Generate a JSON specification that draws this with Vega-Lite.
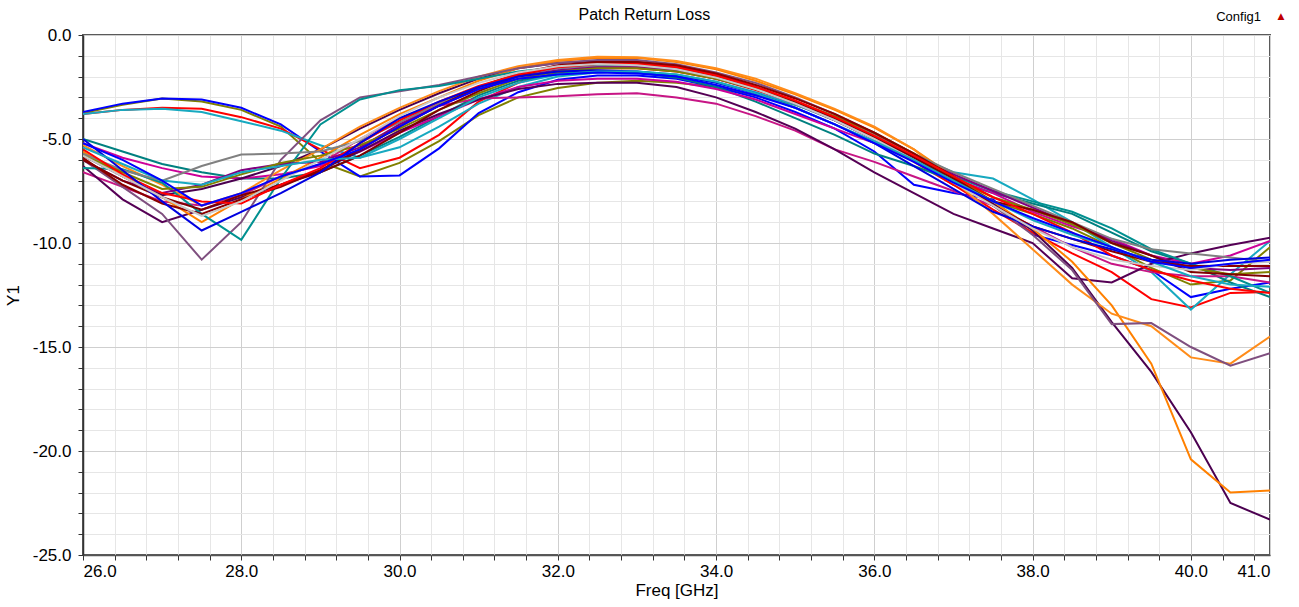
{
"$schema": "https://vega.github.io/schema/vega-lite/v6.json",
"width": 1187, "height": 520,
"autosize": "none",
"padding": {"left": 83, "top": 35, "right": 29, "bottom": 52},
"background": "white",
"config": {"view": {"stroke": "#5a5a5a", "strokeWidth": 2}, "font": "Liberation Sans"},
"title": {"text": "Patch Return Loss", "fontSize": 16, "fontWeight": "normal", "font": "Liberation Sans", "color": "#000000", "anchor": "middle", "frame": "bounds", "offset": 0, "dy": 12},
"datasets": {
"curves": [
{"s":"s1","f":26,"v":-3.75},{"s":"s1","f":26.5,"v":-3.35},{"s":"s1","f":27,"v":-3.05},{"s":"s1","f":27.5,"v":-3.2},{"s":"s1","f":28,"v":-3.6},{"s":"s1","f":28.5,"v":-4.4},{"s":"s1","f":29,"v":-6.1},{"s":"s1","f":29.5,"v":-6.8},{"s":"s1","f":30,"v":-6.15},{"s":"s1","f":30.5,"v":-5.1},{"s":"s1","f":31,"v":-3.85},{"s":"s1","f":31.5,"v":-3.0},{"s":"s1","f":32,"v":-2.55},{"s":"s1","f":32.5,"v":-2.3},{"s":"s1","f":33,"v":-2.2},{"s":"s1","f":33.5,"v":-2.3},{"s":"s1","f":34,"v":-2.5},{"s":"s1","f":34.5,"v":-2.9},{"s":"s1","f":35,"v":-3.35},{"s":"s1","f":35.5,"v":-4.0},{"s":"s1","f":36,"v":-4.9},{"s":"s1","f":36.5,"v":-6.0},{"s":"s1","f":37,"v":-7.2},{"s":"s1","f":37.5,"v":-8.0},{"s":"s1","f":38,"v":-8.6},{"s":"s1","f":38.5,"v":-9.3},{"s":"s1","f":39,"v":-10.2},{"s":"s1","f":39.5,"v":-11.2},{"s":"s1","f":40,"v":-12.0},{"s":"s1","f":40.5,"v":-11.8},{"s":"s1","f":41,"v":-10.2},
{"s":"s2","f":26,"v":-3.7},{"s":"s2","f":26.5,"v":-3.3},{"s":"s2","f":27,"v":-3.05},{"s":"s2","f":27.5,"v":-3.1},{"s":"s2","f":28,"v":-3.5},{"s":"s2","f":28.5,"v":-4.3},{"s":"s2","f":29,"v":-5.6},{"s":"s2","f":29.5,"v":-6.8},{"s":"s2","f":30,"v":-6.75},{"s":"s2","f":30.5,"v":-5.45},{"s":"s2","f":31,"v":-3.75},{"s":"s2","f":31.5,"v":-2.75},{"s":"s2","f":32,"v":-2.15},{"s":"s2","f":32.5,"v":-1.95},{"s":"s2","f":33,"v":-1.95},{"s":"s2","f":33.5,"v":-2.1},{"s":"s2","f":34,"v":-2.5},{"s":"s2","f":34.5,"v":-3.0},{"s":"s2","f":35,"v":-3.7},{"s":"s2","f":35.5,"v":-4.5},{"s":"s2","f":36,"v":-5.6},{"s":"s2","f":36.5,"v":-7.2},{"s":"s2","f":37,"v":-7.6},{"s":"s2","f":37.5,"v":-7.9},{"s":"s2","f":38,"v":-9.6},{"s":"s2","f":38.5,"v":-10.1},{"s":"s2","f":39,"v":-10.6},{"s":"s2","f":39.5,"v":-11.3},{"s":"s2","f":40,"v":-12.6},{"s":"s2","f":40.5,"v":-12.2},{"s":"s2","f":41,"v":-11.9},
{"s":"s3","f":26,"v":-3.8},{"s":"s3","f":26.5,"v":-3.6},{"s":"s3","f":27,"v":-3.5},{"s":"s3","f":27.5,"v":-3.55},{"s":"s3","f":28,"v":-3.95},{"s":"s3","f":28.5,"v":-4.5},{"s":"s3","f":29,"v":-5.5},{"s":"s3","f":29.5,"v":-6.4},{"s":"s3","f":30,"v":-5.9},{"s":"s3","f":30.5,"v":-4.8},{"s":"s3","f":31,"v":-3.2},{"s":"s3","f":31.5,"v":-2.3},{"s":"s3","f":32,"v":-1.8},{"s":"s3","f":32.5,"v":-1.6},{"s":"s3","f":33,"v":-1.6},{"s":"s3","f":33.5,"v":-1.75},{"s":"s3","f":34,"v":-2.1},{"s":"s3","f":34.5,"v":-2.65},{"s":"s3","f":35,"v":-3.3},{"s":"s3","f":35.5,"v":-4.1},{"s":"s3","f":36,"v":-5.0},{"s":"s3","f":36.5,"v":-6.1},{"s":"s3","f":37,"v":-7.2},{"s":"s3","f":37.5,"v":-8.4},{"s":"s3","f":38,"v":-9.5},{"s":"s3","f":38.5,"v":-10.5},{"s":"s3","f":39,"v":-11.4},{"s":"s3","f":39.5,"v":-12.7},{"s":"s3","f":40,"v":-13.1},{"s":"s3","f":40.5,"v":-12.4},{"s":"s3","f":41,"v":-12.35},
{"s":"s4","f":26,"v":-3.8},{"s":"s4","f":26.5,"v":-3.6},{"s":"s4","f":27,"v":-3.55},{"s":"s4","f":27.5,"v":-3.7},{"s":"s4","f":28,"v":-4.15},{"s":"s4","f":28.5,"v":-4.6},{"s":"s4","f":29,"v":-5.3},{"s":"s4","f":29.5,"v":-5.9},{"s":"s4","f":30,"v":-5.4},{"s":"s4","f":30.5,"v":-4.4},{"s":"s4","f":31,"v":-3.3},{"s":"s4","f":31.5,"v":-2.5},{"s":"s4","f":32,"v":-2.0},{"s":"s4","f":32.5,"v":-1.8},{"s":"s4","f":33,"v":-1.75},{"s":"s4","f":33.5,"v":-1.9},{"s":"s4","f":34,"v":-2.25},{"s":"s4","f":34.5,"v":-2.75},{"s":"s4","f":35,"v":-3.35},{"s":"s4","f":35.5,"v":-4.1},{"s":"s4","f":36,"v":-4.9},{"s":"s4","f":36.5,"v":-5.8},{"s":"s4","f":37,"v":-6.6},{"s":"s4","f":37.5,"v":-6.9},{"s":"s4","f":38,"v":-7.9},{"s":"s4","f":38.5,"v":-9.0},{"s":"s4","f":39,"v":-10.2},{"s":"s4","f":39.5,"v":-11.4},{"s":"s4","f":40,"v":-13.2},{"s":"s4","f":40.5,"v":-11.5},{"s":"s4","f":41,"v":-9.9},
{"s":"s5","f":26,"v":-5.0},{"s":"s5","f":26.5,"v":-5.6},{"s":"s5","f":27,"v":-6.2},{"s":"s5","f":27.5,"v":-6.6},{"s":"s5","f":28,"v":-6.9},{"s":"s5","f":28.5,"v":-6.9},{"s":"s5","f":29,"v":-6.6},{"s":"s5","f":29.5,"v":-5.8},{"s":"s5","f":30,"v":-4.9},{"s":"s5","f":30.5,"v":-3.9},{"s":"s5","f":31,"v":-2.9},{"s":"s5","f":31.5,"v":-2.2},{"s":"s5","f":32,"v":-1.85},{"s":"s5","f":32.5,"v":-1.75},{"s":"s5","f":33,"v":-1.8},{"s":"s5","f":33.5,"v":-2.05},{"s":"s5","f":34,"v":-2.5},{"s":"s5","f":34.5,"v":-3.2},{"s":"s5","f":35,"v":-4.0},{"s":"s5","f":35.5,"v":-4.8},{"s":"s5","f":36,"v":-5.7},{"s":"s5","f":36.5,"v":-6.3},{"s":"s5","f":37,"v":-7.0},{"s":"s5","f":37.5,"v":-7.6},{"s":"s5","f":38,"v":-8.1},{"s":"s5","f":38.5,"v":-8.6},{"s":"s5","f":39,"v":-9.5},{"s":"s5","f":39.5,"v":-10.4},{"s":"s5","f":40,"v":-11.0},{"s":"s5","f":40.5,"v":-11.9},{"s":"s5","f":41,"v":-12.6},
{"s":"s6","f":26,"v":-5.2},{"s":"s6","f":26.5,"v":-5.9},{"s":"s6","f":27,"v":-6.4},{"s":"s6","f":27.5,"v":-6.8},{"s":"s6","f":28,"v":-6.9},{"s":"s6","f":28.5,"v":-6.7},{"s":"s6","f":29,"v":-6.3},{"s":"s6","f":29.5,"v":-5.6},{"s":"s6","f":30,"v":-4.7},{"s":"s6","f":30.5,"v":-3.9},{"s":"s6","f":31,"v":-3.1},{"s":"s6","f":31.5,"v":-2.5},{"s":"s6","f":32,"v":-2.2},{"s":"s6","f":32.5,"v":-2.1},{"s":"s6","f":33,"v":-2.1},{"s":"s6","f":33.5,"v":-2.25},{"s":"s6","f":34,"v":-2.6},{"s":"s6","f":34.5,"v":-3.1},{"s":"s6","f":35,"v":-3.8},{"s":"s6","f":35.5,"v":-4.5},{"s":"s6","f":36,"v":-5.2},{"s":"s6","f":36.5,"v":-5.9},{"s":"s6","f":37,"v":-6.9},{"s":"s6","f":37.5,"v":-7.6},{"s":"s6","f":38,"v":-8.5},{"s":"s6","f":38.5,"v":-9.2},{"s":"s6","f":39,"v":-9.8},{"s":"s6","f":39.5,"v":-10.6},{"s":"s6","f":40,"v":-11.0},{"s":"s6","f":40.5,"v":-10.6},{"s":"s6","f":41,"v":-9.9},
{"s":"s7","f":26,"v":-6.6},{"s":"s7","f":26.5,"v":-7.3},{"s":"s7","f":27,"v":-8.0},{"s":"s7","f":27.5,"v":-8.2},{"s":"s7","f":28,"v":-7.7},{"s":"s7","f":28.5,"v":-6.8},{"s":"s7","f":29,"v":-6.2},{"s":"s7","f":29.5,"v":-5.0},{"s":"s7","f":30,"v":-4.0},{"s":"s7","f":30.5,"v":-3.4},{"s":"s7","f":31,"v":-3.05},{"s":"s7","f":31.5,"v":-3.0},{"s":"s7","f":32,"v":-2.95},{"s":"s7","f":32.5,"v":-2.85},{"s":"s7","f":33,"v":-2.8},{"s":"s7","f":33.5,"v":-3.0},{"s":"s7","f":34,"v":-3.3},{"s":"s7","f":34.5,"v":-3.9},{"s":"s7","f":35,"v":-4.6},{"s":"s7","f":35.5,"v":-5.5},{"s":"s7","f":36,"v":-6.1},{"s":"s7","f":36.5,"v":-6.8},{"s":"s7","f":37,"v":-7.5},{"s":"s7","f":37.5,"v":-8.2},{"s":"s7","f":38,"v":-9.2},{"s":"s7","f":38.5,"v":-10.2},{"s":"s7","f":39,"v":-11.0},{"s":"s7","f":39.5,"v":-11.4},{"s":"s7","f":40,"v":-11.6},{"s":"s7","f":40.5,"v":-11.6},{"s":"s7","f":41,"v":-11.9},
{"s":"s8","f":26,"v":-6.3},{"s":"s8","f":26.5,"v":-7.9},{"s":"s8","f":27,"v":-9.0},{"s":"s8","f":27.5,"v":-8.4},{"s":"s8","f":28,"v":-7.8},{"s":"s8","f":28.5,"v":-7.2},{"s":"s8","f":29,"v":-6.5},{"s":"s8","f":29.5,"v":-5.6},{"s":"s8","f":30,"v":-4.6},{"s":"s8","f":30.5,"v":-3.8},{"s":"s8","f":31,"v":-3.1},{"s":"s8","f":31.5,"v":-2.6},{"s":"s8","f":32,"v":-2.35},{"s":"s8","f":32.5,"v":-2.3},{"s":"s8","f":33,"v":-2.3},{"s":"s8","f":33.5,"v":-2.5},{"s":"s8","f":34,"v":-3.0},{"s":"s8","f":34.5,"v":-3.7},{"s":"s8","f":35,"v":-4.5},{"s":"s8","f":35.5,"v":-5.5},{"s":"s8","f":36,"v":-6.6},{"s":"s8","f":36.5,"v":-7.6},{"s":"s8","f":37,"v":-8.6},{"s":"s8","f":37.5,"v":-9.3},{"s":"s8","f":38,"v":-10.0},{"s":"s8","f":38.5,"v":-11.7},{"s":"s8","f":39,"v":-11.9},{"s":"s8","f":39.5,"v":-11.0},{"s":"s8","f":40,"v":-10.5},{"s":"s8","f":40.5,"v":-10.1},{"s":"s8","f":41,"v":-9.75},
{"s":"s9","f":26,"v":-5.8},{"s":"s9","f":26.5,"v":-6.8},{"s":"s9","f":27,"v":-7.7},{"s":"s9","f":27.5,"v":-7.4},{"s":"s9","f":28,"v":-6.9},{"s":"s9","f":28.5,"v":-6.3},{"s":"s9","f":29,"v":-5.5},{"s":"s9","f":29.5,"v":-4.5},{"s":"s9","f":30,"v":-3.6},{"s":"s9","f":30.5,"v":-2.8},{"s":"s9","f":31,"v":-2.1},{"s":"s9","f":31.5,"v":-1.6},{"s":"s9","f":32,"v":-1.35},{"s":"s9","f":32.5,"v":-1.25},{"s":"s9","f":33,"v":-1.3},{"s":"s9","f":33.5,"v":-1.5},{"s":"s9","f":34,"v":-1.9},{"s":"s9","f":34.5,"v":-2.5},{"s":"s9","f":35,"v":-3.2},{"s":"s9","f":35.5,"v":-4.0},{"s":"s9","f":36,"v":-4.9},{"s":"s9","f":36.5,"v":-5.9},{"s":"s9","f":37,"v":-7.0},{"s":"s9","f":37.5,"v":-8.1},{"s":"s9","f":38,"v":-9.4},{"s":"s9","f":38.5,"v":-11.2},{"s":"s9","f":39,"v":-13.8},{"s":"s9","f":39.5,"v":-16.2},{"s":"s9","f":40,"v":-19.1},{"s":"s9","f":40.5,"v":-22.5},{"s":"s9","f":41,"v":-23.3},
{"s":"s10","f":26,"v":-5.6},{"s":"s10","f":26.5,"v":-6.8},{"s":"s10","f":27,"v":-7.8},{"s":"s10","f":27.5,"v":-9.0},{"s":"s10","f":28,"v":-7.9},{"s":"s10","f":28.5,"v":-6.9},{"s":"s10","f":29,"v":-5.9},{"s":"s10","f":29.5,"v":-4.8},{"s":"s10","f":30,"v":-3.8},{"s":"s10","f":30.5,"v":-3.0},{"s":"s10","f":31,"v":-2.2},{"s":"s10","f":31.5,"v":-1.6},{"s":"s10","f":32,"v":-1.25},{"s":"s10","f":32.5,"v":-1.1},{"s":"s10","f":33,"v":-1.1},{"s":"s10","f":33.5,"v":-1.3},{"s":"s10","f":34,"v":-1.65},{"s":"s10","f":34.5,"v":-2.2},{"s":"s10","f":35,"v":-2.85},{"s":"s10","f":35.5,"v":-3.6},{"s":"s10","f":36,"v":-4.45},{"s":"s10","f":36.5,"v":-5.5},{"s":"s10","f":37,"v":-6.8},{"s":"s10","f":37.5,"v":-8.0},{"s":"s10","f":38,"v":-9.3},{"s":"s10","f":38.5,"v":-10.9},{"s":"s10","f":39,"v":-13.0},{"s":"s10","f":39.5,"v":-15.8},{"s":"s10","f":40,"v":-20.4},{"s":"s10","f":40.5,"v":-22.0},{"s":"s10","f":41,"v":-21.9},
{"s":"s11","f":26,"v":-5.3},{"s":"s11","f":26.5,"v":-6.3},{"s":"s11","f":27,"v":-7.2},{"s":"s11","f":27.5,"v":-8.2},{"s":"s11","f":28,"v":-7.6},{"s":"s11","f":28.5,"v":-6.5},{"s":"s11","f":29,"v":-5.5},{"s":"s11","f":29.5,"v":-4.4},{"s":"s11","f":30,"v":-3.5},{"s":"s11","f":30.5,"v":-2.7},{"s":"s11","f":31,"v":-2.0},{"s":"s11","f":31.5,"v":-1.5},{"s":"s11","f":32,"v":-1.2},{"s":"s11","f":32.5,"v":-1.05},{"s":"s11","f":33,"v":-1.07},{"s":"s11","f":33.5,"v":-1.25},{"s":"s11","f":34,"v":-1.6},{"s":"s11","f":34.5,"v":-2.1},{"s":"s11","f":35,"v":-2.8},{"s":"s11","f":35.5,"v":-3.55},{"s":"s11","f":36,"v":-4.4},{"s":"s11","f":36.5,"v":-5.5},{"s":"s11","f":37,"v":-7.0},{"s":"s11","f":37.5,"v":-8.6},{"s":"s11","f":38,"v":-10.3},{"s":"s11","f":38.5,"v":-12.0},{"s":"s11","f":39,"v":-13.4},{"s":"s11","f":39.5,"v":-14.0},{"s":"s11","f":40,"v":-15.5},{"s":"s11","f":40.5,"v":-15.8},{"s":"s11","f":41,"v":-14.5},
{"s":"s12","f":26,"v":-6.0},{"s":"s12","f":26.5,"v":-7.3},{"s":"s12","f":27,"v":-8.6},{"s":"s12","f":27.5,"v":-10.8},{"s":"s12","f":28,"v":-9.0},{"s":"s12","f":28.5,"v":-6.0},{"s":"s12","f":29,"v":-4.1},{"s":"s12","f":29.5,"v":-3.0},{"s":"s12","f":30,"v":-2.7},{"s":"s12","f":30.5,"v":-2.4},{"s":"s12","f":31,"v":-2.0},{"s":"s12","f":31.5,"v":-1.6},{"s":"s12","f":32,"v":-1.35},{"s":"s12","f":32.5,"v":-1.2},{"s":"s12","f":33,"v":-1.2},{"s":"s12","f":33.5,"v":-1.4},{"s":"s12","f":34,"v":-1.8},{"s":"s12","f":34.5,"v":-2.3},{"s":"s12","f":35,"v":-3.0},{"s":"s12","f":35.5,"v":-3.8},{"s":"s12","f":36,"v":-4.7},{"s":"s12","f":36.5,"v":-5.7},{"s":"s12","f":37,"v":-6.9},{"s":"s12","f":37.5,"v":-8.2},{"s":"s12","f":38,"v":-9.6},{"s":"s12","f":38.5,"v":-11.3},{"s":"s12","f":39,"v":-13.9},{"s":"s12","f":39.5,"v":-13.85},{"s":"s12","f":40,"v":-15.0},{"s":"s12","f":40.5,"v":-15.9},{"s":"s12","f":41,"v":-15.3},
{"s":"s13","f":26,"v":-6.4},{"s":"s13","f":26.5,"v":-6.45},{"s":"s13","f":27,"v":-7.1},{"s":"s13","f":27.5,"v":-8.6},{"s":"s13","f":28,"v":-9.85},{"s":"s13","f":28.5,"v":-6.9},{"s":"s13","f":29,"v":-4.3},{"s":"s13","f":29.5,"v":-3.1},{"s":"s13","f":30,"v":-2.65},{"s":"s13","f":30.5,"v":-2.45},{"s":"s13","f":31,"v":-2.1},{"s":"s13","f":31.5,"v":-1.75},{"s":"s13","f":32,"v":-1.55},{"s":"s13","f":32.5,"v":-1.45},{"s":"s13","f":33,"v":-1.45},{"s":"s13","f":33.5,"v":-1.6},{"s":"s13","f":34,"v":-2.0},{"s":"s13","f":34.5,"v":-2.55},{"s":"s13","f":35,"v":-3.25},{"s":"s13","f":35.5,"v":-4.1},{"s":"s13","f":36,"v":-5.0},{"s":"s13","f":36.5,"v":-5.9},{"s":"s13","f":37,"v":-6.8},{"s":"s13","f":37.5,"v":-7.5},{"s":"s13","f":38,"v":-8.0},{"s":"s13","f":38.5,"v":-8.5},{"s":"s13","f":39,"v":-9.3},{"s":"s13","f":39.5,"v":-10.3},{"s":"s13","f":40,"v":-11.0},{"s":"s13","f":40.5,"v":-11.6},{"s":"s13","f":41,"v":-12.4},
{"s":"s14","f":26,"v":-5.7},{"s":"s14","f":26.5,"v":-6.5},{"s":"s14","f":27,"v":-7.0},{"s":"s14","f":27.5,"v":-6.3},{"s":"s14","f":28,"v":-5.75},{"s":"s14","f":28.5,"v":-5.7},{"s":"s14","f":29,"v":-5.6},{"s":"s14","f":29.5,"v":-5.1},{"s":"s14","f":30,"v":-4.2},{"s":"s14","f":30.5,"v":-3.3},{"s":"s14","f":31,"v":-2.5},{"s":"s14","f":31.5,"v":-1.95},{"s":"s14","f":32,"v":-1.6},{"s":"s14","f":32.5,"v":-1.5},{"s":"s14","f":33,"v":-1.5},{"s":"s14","f":33.5,"v":-1.65},{"s":"s14","f":34,"v":-2.0},{"s":"s14","f":34.5,"v":-2.55},{"s":"s14","f":35,"v":-3.2},{"s":"s14","f":35.5,"v":-3.95},{"s":"s14","f":36,"v":-4.8},{"s":"s14","f":36.5,"v":-5.7},{"s":"s14","f":37,"v":-6.6},{"s":"s14","f":37.5,"v":-7.4},{"s":"s14","f":38,"v":-8.2},{"s":"s14","f":38.5,"v":-9.0},{"s":"s14","f":39,"v":-9.8},{"s":"s14","f":39.5,"v":-10.3},{"s":"s14","f":40,"v":-10.5},{"s":"s14","f":40.5,"v":-10.7},{"s":"s14","f":41,"v":-10.9},
{"s":"s15","f":26,"v":-6.0},{"s":"s15","f":26.5,"v":-7.0},{"s":"s15","f":27,"v":-7.6},{"s":"s15","f":27.5,"v":-7.2},{"s":"s15","f":28,"v":-6.5},{"s":"s15","f":28.5,"v":-6.2},{"s":"s15","f":29,"v":-6.1},{"s":"s15","f":29.5,"v":-5.4},{"s":"s15","f":30,"v":-4.3},{"s":"s15","f":30.5,"v":-3.4},{"s":"s15","f":31,"v":-2.6},{"s":"s15","f":31.5,"v":-2.0},{"s":"s15","f":32,"v":-1.7},{"s":"s15","f":32.5,"v":-1.55},{"s":"s15","f":33,"v":-1.55},{"s":"s15","f":33.5,"v":-1.7},{"s":"s15","f":34,"v":-2.1},{"s":"s15","f":34.5,"v":-2.6},{"s":"s15","f":35,"v":-3.3},{"s":"s15","f":35.5,"v":-4.1},{"s":"s15","f":36,"v":-5.0},{"s":"s15","f":36.5,"v":-5.9},{"s":"s15","f":37,"v":-6.7},{"s":"s15","f":37.5,"v":-7.5},{"s":"s15","f":38,"v":-8.3},{"s":"s15","f":38.5,"v":-9.1},{"s":"s15","f":39,"v":-9.9},{"s":"s15","f":39.5,"v":-10.6},{"s":"s15","f":40,"v":-11.2},{"s":"s15","f":40.5,"v":-11.3},{"s":"s15","f":41,"v":-11.2},
{"s":"s16","f":26,"v":-5.8},{"s":"s16","f":26.5,"v":-6.6},{"s":"s16","f":27,"v":-7.4},{"s":"s16","f":27.5,"v":-7.3},{"s":"s16","f":28,"v":-6.7},{"s":"s16","f":28.5,"v":-6.15},{"s":"s16","f":29,"v":-5.8},{"s":"s16","f":29.5,"v":-5.3},{"s":"s16","f":30,"v":-4.5},{"s":"s16","f":30.5,"v":-3.6},{"s":"s16","f":31,"v":-2.8},{"s":"s16","f":31.5,"v":-2.1},{"s":"s16","f":32,"v":-1.75},{"s":"s16","f":32.5,"v":-1.6},{"s":"s16","f":33,"v":-1.6},{"s":"s16","f":33.5,"v":-1.75},{"s":"s16","f":34,"v":-2.1},{"s":"s16","f":34.5,"v":-2.6},{"s":"s16","f":35,"v":-3.2},{"s":"s16","f":35.5,"v":-3.9},{"s":"s16","f":36,"v":-4.7},{"s":"s16","f":36.5,"v":-5.7},{"s":"s16","f":37,"v":-6.9},{"s":"s16","f":37.5,"v":-7.8},{"s":"s16","f":38,"v":-8.4},{"s":"s16","f":38.5,"v":-9.1},{"s":"s16","f":39,"v":-10.0},{"s":"s16","f":39.5,"v":-10.8},{"s":"s16","f":40,"v":-11.2},{"s":"s16","f":40.5,"v":-11.5},{"s":"s16","f":41,"v":-11.4},
{"s":"s17","f":26,"v":-6.0},{"s":"s17","f":26.5,"v":-7.0},{"s":"s17","f":27,"v":-7.8},{"s":"s17","f":27.5,"v":-8.4},{"s":"s17","f":28,"v":-7.7},{"s":"s17","f":28.5,"v":-7.2},{"s":"s17","f":29,"v":-6.6},{"s":"s17","f":29.5,"v":-5.8},{"s":"s17","f":30,"v":-4.7},{"s":"s17","f":30.5,"v":-3.6},{"s":"s17","f":31,"v":-2.7},{"s":"s17","f":31.5,"v":-1.95},{"s":"s17","f":32,"v":-1.5},{"s":"s17","f":32.5,"v":-1.35},{"s":"s17","f":33,"v":-1.35},{"s":"s17","f":33.5,"v":-1.55},{"s":"s17","f":34,"v":-1.95},{"s":"s17","f":34.5,"v":-2.5},{"s":"s17","f":35,"v":-3.2},{"s":"s17","f":35.5,"v":-4.0},{"s":"s17","f":36,"v":-4.9},{"s":"s17","f":36.5,"v":-5.9},{"s":"s17","f":37,"v":-6.9},{"s":"s17","f":37.5,"v":-8.0},{"s":"s17","f":38,"v":-8.4},{"s":"s17","f":38.5,"v":-9.0},{"s":"s17","f":39,"v":-10.0},{"s":"s17","f":39.5,"v":-10.6},{"s":"s17","f":40,"v":-11.4},{"s":"s17","f":40.5,"v":-11.5},{"s":"s17","f":41,"v":-11.6},
{"s":"s18","f":26,"v":-5.9},{"s":"s18","f":26.5,"v":-7.2},{"s":"s18","f":27,"v":-8.1},{"s":"s18","f":27.5,"v":-8.6},{"s":"s18","f":28,"v":-7.9},{"s":"s18","f":28.5,"v":-7.3},{"s":"s18","f":29,"v":-6.5},{"s":"s18","f":29.5,"v":-5.5},{"s":"s18","f":30,"v":-4.4},{"s":"s18","f":30.5,"v":-3.4},{"s":"s18","f":31,"v":-2.5},{"s":"s18","f":31.5,"v":-1.85},{"s":"s18","f":32,"v":-1.45},{"s":"s18","f":32.5,"v":-1.3},{"s":"s18","f":33,"v":-1.3},{"s":"s18","f":33.5,"v":-1.45},{"s":"s18","f":34,"v":-1.85},{"s":"s18","f":34.5,"v":-2.4},{"s":"s18","f":35,"v":-3.05},{"s":"s18","f":35.5,"v":-3.8},{"s":"s18","f":36,"v":-4.7},{"s":"s18","f":36.5,"v":-5.7},{"s":"s18","f":37,"v":-6.8},{"s":"s18","f":37.5,"v":-8.2},{"s":"s18","f":38,"v":-9.2},{"s":"s18","f":38.5,"v":-9.8},{"s":"s18","f":39,"v":-10.4},{"s":"s18","f":39.5,"v":-10.9},{"s":"s18","f":40,"v":-11.1},{"s":"s18","f":40.5,"v":-11.1},{"s":"s18","f":41,"v":-11.1},
{"s":"s19","f":26,"v":-5.5},{"s":"s19","f":26.5,"v":-6.7},{"s":"s19","f":27,"v":-7.6},{"s":"s19","f":27.5,"v":-8.0},{"s":"s19","f":28,"v":-8.1},{"s":"s19","f":28.5,"v":-7.2},{"s":"s19","f":29,"v":-6.4},{"s":"s19","f":29.5,"v":-5.2},{"s":"s19","f":30,"v":-4.1},{"s":"s19","f":30.5,"v":-3.2},{"s":"s19","f":31,"v":-2.45},{"s":"s19","f":31.5,"v":-1.9},{"s":"s19","f":32,"v":-1.55},{"s":"s19","f":32.5,"v":-1.4},{"s":"s19","f":33,"v":-1.4},{"s":"s19","f":33.5,"v":-1.55},{"s":"s19","f":34,"v":-1.95},{"s":"s19","f":34.5,"v":-2.5},{"s":"s19","f":35,"v":-3.15},{"s":"s19","f":35.5,"v":-3.95},{"s":"s19","f":36,"v":-4.85},{"s":"s19","f":36.5,"v":-5.8},{"s":"s19","f":37,"v":-6.8},{"s":"s19","f":37.5,"v":-7.8},{"s":"s19","f":38,"v":-8.6},{"s":"s19","f":38.5,"v":-9.5},{"s":"s19","f":39,"v":-10.6},{"s":"s19","f":39.5,"v":-11.3},{"s":"s19","f":40,"v":-11.8},{"s":"s19","f":40.5,"v":-12.2},{"s":"s19","f":41,"v":-12.4},
{"s":"s20","f":26,"v":-5.0},{"s":"s20","f":26.5,"v":-6.5},{"s":"s20","f":27,"v":-8.0},{"s":"s20","f":27.5,"v":-9.4},{"s":"s20","f":28,"v":-8.5},{"s":"s20","f":28.5,"v":-7.6},{"s":"s20","f":29,"v":-6.6},{"s":"s20","f":29.5,"v":-5.2},{"s":"s20","f":30,"v":-4.0},{"s":"s20","f":30.5,"v":-3.2},{"s":"s20","f":31,"v":-2.5},{"s":"s20","f":31.5,"v":-2.0},{"s":"s20","f":32,"v":-1.75},{"s":"s20","f":32.5,"v":-1.7},{"s":"s20","f":33,"v":-1.75},{"s":"s20","f":33.5,"v":-1.95},{"s":"s20","f":34,"v":-2.3},{"s":"s20","f":34.5,"v":-2.8},{"s":"s20","f":35,"v":-3.5},{"s":"s20","f":35.5,"v":-4.3},{"s":"s20","f":36,"v":-5.2},{"s":"s20","f":36.5,"v":-6.3},{"s":"s20","f":37,"v":-7.4},{"s":"s20","f":37.5,"v":-8.5},{"s":"s20","f":38,"v":-9.2},{"s":"s20","f":38.5,"v":-9.8},{"s":"s20","f":39,"v":-10.3},{"s":"s20","f":39.5,"v":-10.8},{"s":"s20","f":40,"v":-11.0},{"s":"s20","f":40.5,"v":-10.8},{"s":"s20","f":41,"v":-10.7},
{"s":"s21","f":26,"v":-5.8},{"s":"s21","f":26.5,"v":-6.8},{"s":"s21","f":27,"v":-7.8},{"s":"s21","f":27.5,"v":-8.7},{"s":"s21","f":28,"v":-8.0},{"s":"s21","f":28.5,"v":-7.0},{"s":"s21","f":29,"v":-6.0},{"s":"s21","f":29.5,"v":-5.0},{"s":"s21","f":30,"v":-3.9},{"s":"s21","f":30.5,"v":-3.0},{"s":"s21","f":31,"v":-2.3},{"s":"s21","f":31.5,"v":-1.8},{"s":"s21","f":32,"v":-1.5},{"s":"s21","f":32.5,"v":-1.4},{"s":"s21","f":33,"v":-1.45},{"s":"s21","f":33.5,"v":-1.65},{"s":"s21","f":34,"v":-2.05},{"s":"s21","f":34.5,"v":-2.6},{"s":"s21","f":35,"v":-3.3},{"s":"s21","f":35.5,"v":-4.1},{"s":"s21","f":36,"v":-5.0},{"s":"s21","f":36.5,"v":-6.0},{"s":"s21","f":37,"v":-7.1},{"s":"s21","f":37.5,"v":-8.2},{"s":"s21","f":38,"v":-9.3},{"s":"s21","f":38.5,"v":-10.2},{"s":"s21","f":39,"v":-10.8},{"s":"s21","f":39.5,"v":-11.1},{"s":"s21","f":40,"v":-11.3},{"s":"s21","f":40.5,"v":-11.0},{"s":"s21","f":41,"v":-10.9},
{"s":"s22","f":26,"v":-5.4},{"s":"s22","f":26.5,"v":-6.2},{"s":"s22","f":27,"v":-7.0},{"s":"s22","f":27.5,"v":-7.2},{"s":"s22","f":28,"v":-6.6},{"s":"s22","f":28.5,"v":-6.3},{"s":"s22","f":29,"v":-6.0},{"s":"s22","f":29.5,"v":-5.9},{"s":"s22","f":30,"v":-5.0},{"s":"s22","f":30.5,"v":-4.0},{"s":"s22","f":31,"v":-3.0},{"s":"s22","f":31.5,"v":-2.3},{"s":"s22","f":32,"v":-1.9},{"s":"s22","f":32.5,"v":-1.75},{"s":"s22","f":33,"v":-1.75},{"s":"s22","f":33.5,"v":-1.9},{"s":"s22","f":34,"v":-2.25},{"s":"s22","f":34.5,"v":-2.8},{"s":"s22","f":35,"v":-3.5},{"s":"s22","f":35.5,"v":-4.3},{"s":"s22","f":36,"v":-5.1},{"s":"s22","f":36.5,"v":-6.0},{"s":"s22","f":37,"v":-7.0},{"s":"s22","f":37.5,"v":-8.0},{"s":"s22","f":38,"v":-8.9},{"s":"s22","f":38.5,"v":-9.6},{"s":"s22","f":39,"v":-10.2},{"s":"s22","f":39.5,"v":-10.9},{"s":"s22","f":40,"v":-11.6},{"s":"s22","f":40.5,"v":-12.0},{"s":"s22","f":41,"v":-12.1},
{"s":"s23","f":26,"v":-5.2},{"s":"s23","f":26.5,"v":-6.0},{"s":"s23","f":27,"v":-7.0},{"s":"s23","f":27.5,"v":-8.2},{"s":"s23","f":28,"v":-7.6},{"s":"s23","f":28.5,"v":-6.8},{"s":"s23","f":29,"v":-6.2},{"s":"s23","f":29.5,"v":-5.5},{"s":"s23","f":30,"v":-4.4},{"s":"s23","f":30.5,"v":-3.4},{"s":"s23","f":31,"v":-2.6},{"s":"s23","f":31.5,"v":-2.1},{"s":"s23","f":32,"v":-1.9},{"s":"s23","f":32.5,"v":-1.8},{"s":"s23","f":33,"v":-1.85},{"s":"s23","f":33.5,"v":-2.0},{"s":"s23","f":34,"v":-2.4},{"s":"s23","f":34.5,"v":-2.9},{"s":"s23","f":35,"v":-3.5},{"s":"s23","f":35.5,"v":-4.3},{"s":"s23","f":36,"v":-5.2},{"s":"s23","f":36.5,"v":-6.1},{"s":"s23","f":37,"v":-7.1},{"s":"s23","f":37.5,"v":-8.0},{"s":"s23","f":38,"v":-8.8},{"s":"s23","f":38.5,"v":-9.5},{"s":"s23","f":39,"v":-10.2},{"s":"s23","f":39.5,"v":-10.9},{"s":"s23","f":40,"v":-11.2},{"s":"s23","f":40.5,"v":-11.0},{"s":"s23","f":41,"v":-10.8}
],
"labels": [{"t": "Config1", "f": 41, "v": 0}]
},
"layer": [
{
"data": {"name": "curves"},
"mark": {"type": "line", "opacity": 0},
"encoding": {
"x": {"field": "f", "type": "quantitative", "scale": {"domain": [26, 41], "nice": false, "zero": false},
"axis": {"orient": "bottom", "values": [26,26.4,26.8,27.2,27.6,28.0,28.4,28.8,29.2,29.6,30.0,30.4,30.8,31.2,31.6,32.0,32.4,32.8,33.2,33.6,34.0,34.4,34.8,35.2,35.6,36.0,36.4,36.8,37.2,37.6,38.0,38.4,38.8,39.2,39.6,40.0,40.4,40.8], "labels": false, "ticks": true, "tickSize": 5, "tickColor": "#333333", "grid": true, "gridColor": "#e6e6e6", "gridWidth": 1, "domain": false, "title": null}},
"y": {"field": "v", "type": "quantitative", "scale": {"domain": [-25, 0], "nice": false, "zero": false},
"axis": {"orient": "left", "values": [-25,-24,-23,-22,-21,-20,-19,-18,-17,-16,-15,-14,-13,-12,-11,-10,-9,-8,-7,-6,-5,-4,-3,-2,-1,0], "labels": false, "ticks": true, "tickSize": 5, "tickColor": "#333333", "grid": true, "gridColor": "#e6e6e6", "gridWidth": 1, "domain": false, "title": null}},
"detail": {"field": "s", "type": "nominal"}
}
},
{
"data": {"name": "curves"},
"mark": {"type": "line", "strokeWidth": 2, "clip": true},
"encoding": {
"x": {"field": "f", "type": "quantitative", "scale": {"domain": [26, 41], "nice": false, "zero": false},
"axis": {"orient": "bottom", "values": [26,28,30,32,34,36,38,40,41], "labelExpr": "(datum.value < 0 ? '-' : '') + format(abs(datum.value), '.1f')", "labelFontSize": 17, "labelColor": "#000000", "labelFont": "Liberation Sans", "ticks": false, "labelPadding": 8, "grid": true, "gridColor": "#cfcfcf", "gridWidth": 1, "domain": true, "domainColor": "#555555", "domainWidth": 1.5, "title": "Freq [GHz]", "titleFontSize": 17, "titleFontWeight": "normal", "titleColor": "#000000", "titleFont": "Liberation Sans", "titlePadding": 3}},
"y": {"field": "v", "type": "quantitative", "scale": {"domain": [-25, 0], "nice": false, "zero": false},
"axis": {"orient": "left", "values": [-25,-20,-15,-10,-5,0], "labelExpr": "(datum.value < 0 ? '-' : '') + format(abs(datum.value), '.1f')", "labelFontSize": 17, "labelColor": "#000000", "labelFont": "Liberation Sans", "ticks": false, "labelPadding": 12, "grid": true, "gridColor": "#cfcfcf", "gridWidth": 1, "domain": true, "domainColor": "#333333", "domainWidth": 1.5, "title": "Y1", "titleFontSize": 17, "titleFontWeight": "normal", "titleColor": "#000000", "titleFont": "Liberation Sans", "titlePadding": 10}},
"color": {"field": "s", "type": "nominal", "legend": null,
"scale": {"domain": ["s1","s2","s3","s4","s5","s6","s7","s8","s9","s10","s11","s12","s13","s14","s15","s16","s17","s18","s19","s20","s21","s22","s23"],
"range": ["#808000","#0000FF","#FF0000","#17A9C0","#008080","#CC0099","#C71585","#550055","#4B0050","#FF8000","#FF8C1A","#7F4F7F","#009090","#808080","#800080","#808000","#800000","#8B0000","#FF0000","#0000E0","#C8C8C8","#17A9C0","#0000FF"]}}
}
},
{
"data": {"name": "labels"},
"mark": {"type": "text", "align": "right", "baseline": "middle", "dx": -9, "dy": -18, "fontSize": 13, "font": "Liberation Sans", "color": "#000000"},
"encoding": {
"x": {"field": "f", "type": "quantitative", "axis": null},
"y": {"field": "v", "type": "quantitative", "axis": null},
"text": {"field": "t"}
}
},
{
"data": {"name": "labels"},
"mark": {"type": "text", "align": "center", "baseline": "middle", "dx": 11, "dy": -19, "fontSize": 9, "font": "DejaVu Sans", "color": "#C00000", "text": "▲"},
"encoding": {
"x": {"field": "f", "type": "quantitative", "axis": null},
"y": {"field": "v", "type": "quantitative", "axis": null}
}
}
],
"resolve": {"axis": {"x": "independent", "y": "independent"}}
}
